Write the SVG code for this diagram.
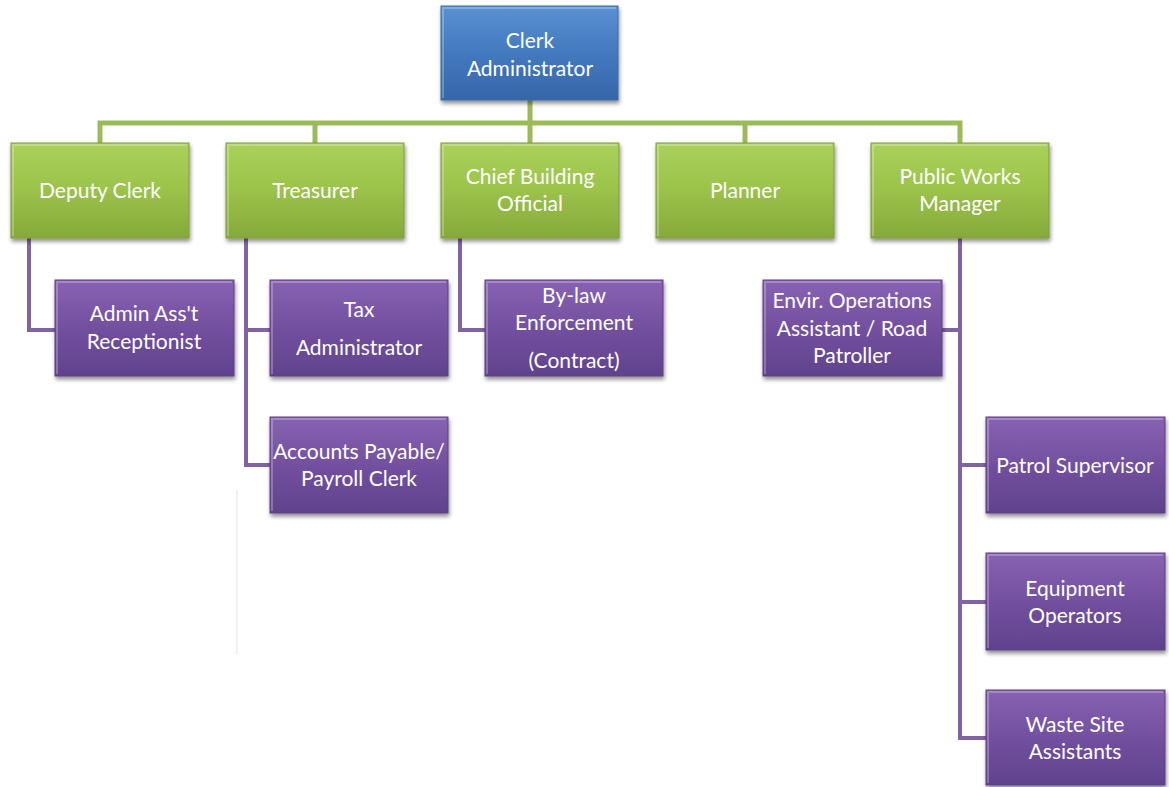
<svg xmlns="http://www.w3.org/2000/svg" width="1169" height="787" viewBox="0 0 1169 787">
<defs>
<linearGradient id="gBlue" x1="0" y1="0" x2="0" y2="1">
<stop offset="0" stop-color="#5a91d2"/><stop offset="0.5" stop-color="#4479bf"/><stop offset="1" stop-color="#3566a8"/>
</linearGradient>
<linearGradient id="gGreen" x1="0" y1="0" x2="0" y2="1">
<stop offset="0" stop-color="#aad15a"/><stop offset="0.5" stop-color="#9bc24a"/><stop offset="1" stop-color="#86a93b"/>
</linearGradient>
<linearGradient id="gPurple" x1="0" y1="0" x2="0" y2="1">
<stop offset="0" stop-color="#8862b2"/><stop offset="0.5" stop-color="#73509f"/><stop offset="1" stop-color="#60428c"/>
</linearGradient>
<filter id="sh" x="-10%" y="-10%" width="125%" height="130%">
<feGaussianBlur in="SourceAlpha" stdDeviation="2"/>
<feOffset dx="1" dy="3" result="b"/>
<feComponentTransfer><feFuncA type="linear" slope="0.45"/></feComponentTransfer>
<feMerge><feMergeNode/><feMergeNode in="SourceGraphic"/></feMerge>
</filter>
</defs>
<style>
.t{font-family:"Lato","Open Sans","Liberation Sans",sans-serif;font-size:21px;fill:#ffffff;text-anchor:middle}
.blue{fill:url(#gBlue);stroke:#3a6aa6;stroke-width:1;filter:url(#sh)}
.green{fill:url(#gGreen);stroke:#7d9e36;stroke-width:1;filter:url(#sh)}
.purple{fill:url(#gPurple);stroke:#5c3f86;stroke-width:1;filter:url(#sh)}
.hl{fill:none;stroke:#ffffff;stroke-opacity:0.25;stroke-width:2}
.gc{fill:none;stroke:#9bbb59;stroke-width:5}
.pc{fill:none;stroke:#8064a2;stroke-width:4}
</style>
<rect width="1169" height="787" fill="#ffffff"/>
<line x1="237" y1="490" x2="237" y2="655" stroke="#e4e4e4" stroke-width="1"/>
<g id="connectors">
<path class="gc" d="M530 100V123M100 143V123H960V143M315 123V143M530 123V143M745 123V143"/>
<path class="pc" d="M29 238V330H55"/>
<path class="pc" d="M246 238V465H270M246 330H270"/>
<path class="pc" d="M460 238V330H485"/>
<path class="pc" d="M960 238V738H986M960 330H942M960 465H986M960 602H986"/>
</g>
<g id="clerk-administrator"><rect class="blue" x="441" y="6" width="177" height="94"/><path class="hl" d="M443 98V8H616"/><text class="t" x="530" y="48">Clerk</text><text class="t" x="530" y="76">Administrator</text></g>
<g id="deputy-clerk"><rect class="green" x="11" y="143" width="178" height="95"/><path class="hl" d="M13 236V145H187"/><text class="t" x="100" y="198">Deputy Clerk</text></g>
<g id="treasurer"><rect class="green" x="226" y="143" width="178" height="95"/><path class="hl" d="M228 236V145H402"/><text class="t" x="315" y="198">Treasurer</text></g>
<g id="chief-building-official"><rect class="green" x="441" y="143" width="178" height="95"/><path class="hl" d="M443 236V145H617"/><text class="t" x="530" y="184">Chief Building</text><text class="t" x="530" y="211">Official</text></g>
<g id="planner"><rect class="green" x="656" y="143" width="178" height="95"/><path class="hl" d="M658 236V145H832"/><text class="t" x="745" y="198">Planner</text></g>
<g id="public-works-manager"><rect class="green" x="871" y="143" width="178" height="95"/><path class="hl" d="M873 236V145H1047"/><text class="t" x="960" y="184">Public Works</text><text class="t" x="960" y="211">Manager</text></g>
<g id="admin-asst"><rect class="purple" x="55" y="280" width="179" height="96"/><path class="hl" d="M57 374V282H232"/><text class="t" x="144" y="321">Admin Ass't</text><text class="t" x="144" y="349">Receptionist</text></g>
<g id="tax-administrator"><rect class="purple" x="270" y="280" width="178" height="96"/><path class="hl" d="M272 374V282H446"/><text class="t" x="359" y="317">Tax</text><text class="t" x="359" y="355">Administrator</text></g>
<g id="accounts-payable"><rect class="purple" x="270" y="417" width="178" height="96"/><path class="hl" d="M272 511V419H446"/><text class="t" x="359" y="459">Accounts Payable/</text><text class="t" x="359" y="486">Payroll Clerk</text></g>
<g id="bylaw-enforcement"><rect class="purple" x="485" y="280" width="178" height="96"/><path class="hl" d="M487 374V282H661"/><text class="t" x="574" y="303">By-law</text><text class="t" x="574" y="330">Enforcement</text><text class="t" x="574" y="368">(Contract)</text></g>
<g id="envir-operations"><rect class="purple" x="763" y="280" width="179" height="96"/><path class="hl" d="M765 374V282H940"/><text class="t" x="852" y="308">Envir. Operations</text><text class="t" x="852" y="336">Assistant / Road</text><text class="t" x="852" y="363">Patroller</text></g>
<g id="patrol-supervisor"><rect class="purple" x="986" y="417" width="179" height="96"/><path class="hl" d="M988 511V419H1163"/><text class="t" x="1075" y="473">Patrol Supervisor</text></g>
<g id="equipment-operators"><rect class="purple" x="986" y="553" width="179" height="97"/><path class="hl" d="M988 648V555H1163"/><text class="t" x="1075" y="596">Equipment</text><text class="t" x="1075" y="623">Operators</text></g>
<g id="waste-site-assistants"><rect class="purple" x="986" y="690" width="179" height="95"/><path class="hl" d="M988 783V692H1163"/><text class="t" x="1075" y="732">Waste Site</text><text class="t" x="1075" y="759">Assistants</text></g>
</svg>
